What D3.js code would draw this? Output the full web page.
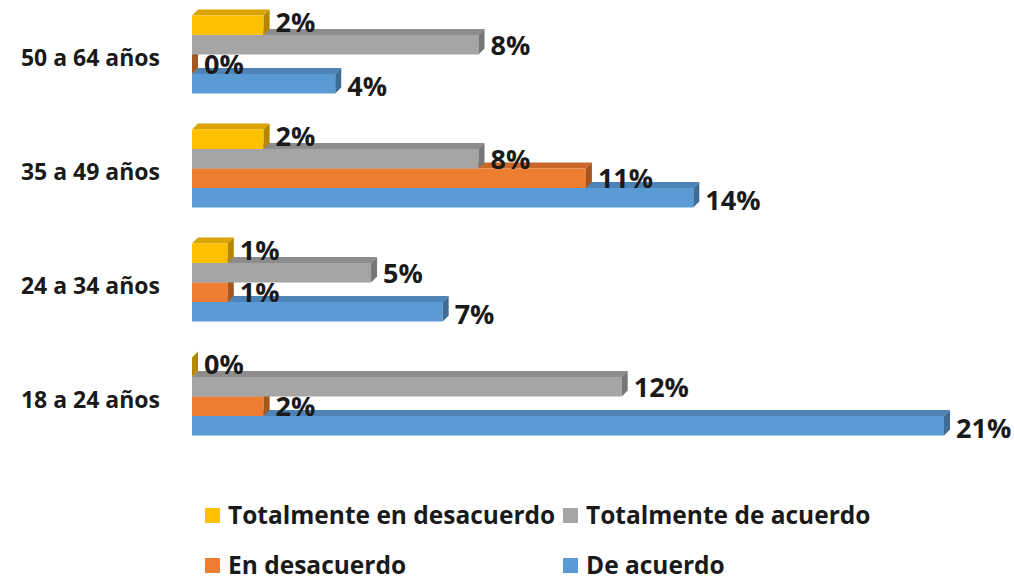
<!DOCTYPE html>
<html>
<head>
<meta charset="utf-8">
<script src="https://cdn.jsdelivr.net/npm/d3@7"></script>
<style>
body{margin:0;background:#fff;}
text{font-family:"Open Sans",Lato,sans-serif;font-weight:bold;fill:#1a1a1a;}
</style>
</head>
<body>
<svg id="chart" width="1014" height="580"></svg>
<script>
// datos
var categorias=["50 a 64 años","35 a 49 años","24 a 34 años","18 a 24 años"];
var series=["Totalmente en desacuerdo","Totalmente de acuerdo","En desacuerdo","De acuerdo"];
var totDesacuerdo=[2,2,1,0];
var totAcuerdo=[8,8,5,12];
var enDesacuerdo=[0,11,1,2];
var deAcuerdo=[4,14,7,21];
var valores=[totDesacuerdo,totAcuerdo,enDesacuerdo,deAcuerdo];

var colores=["#FFC000","#A5A5A5","#ED7D31","#5B9BD5"];
var topes=["#D9A300","#8C8C8C","#C9682A","#4D84B5"];
var lados=["#B38800","#767676","#A3571F","#3F6C96"];

var svg=d3.select("#chart");
var d=6; //profundidad 3d

var scale_x=d3.scaleLinear().domain([0,21]).range([192,944]);
var scale_y=d3.scaleBand().domain(categorias).range([15.5,435.5]).paddingInner(0.3158).paddingOuter(0);
var sub_y=d3.scaleBand().domain(series).range([0,scale_y.bandwidth()]);

var board=svg.append("g");

// se dibuja de abajo hacia arriba para que las caras superiores queden tapadas
for(var s=series.length-1;s>=0;s--)
{
    for(var c=0;c<categorias.length;c++)
    {
        var v=valores[s][c];
        var x0=scale_x(0),x1=scale_x(v);
        var y0=scale_y(categorias[c])+sub_y(series[s]);
        var y1=y0+sub_y.bandwidth();
        board.append("polygon")
            .attr("points",[[x0,y0],[x0+d,y0-d],[x1+d,y0-d],[x1,y0]].join(" "))
            .attr("fill",topes[s]);
        board.append("rect")
            .attr("x",x0).attr("y",y0)
            .attr("width",x1-x0).attr("height",y1-y0)
            .attr("fill",colores[s]);
        board.append("polygon")
            .attr("points",[[x1,y0],[x1+d,y0-d],[x1+d,y1-d],[x1,y1]].join(" "))
            .attr("fill",lados[s]);
    }
}

// etiquetas de valores
var ajuste=[-3,0,0,2];
for(var s=0;s<series.length;s++)
{
    for(var c=0;c<categorias.length;c++)
    {
        var v=valores[s][c];
        var yc=scale_y(categorias[c])+sub_y(series[s])+sub_y.bandwidth()/2;
        board.append("text")
            .attr("x",scale_x(v)+d+6)
            .attr("y",yc+ajuste[s]+3)
            .attr("dominant-baseline","middle")
            .style("font-size","27px")
            .text(v+"%");
    }
}

// categorias
svg.selectAll(".cat").data(categorias).enter().append("text")
    .attr("class","cat")
    .attr("x",160)
    .attr("y",function(k){return scale_y(k)+scale_y.bandwidth()/2+5;})
    .attr("text-anchor","end")
    .attr("dominant-baseline","middle")
    .style("font-size","23px")
    .text(function(k){return k;});

// leyenda
var leyX=[205,563,205,563];
var leyY=[515,515,565,565];
var leyenda=svg.selectAll(".ley").data(series).enter().append("g")
    .attr("class","ley")
    .attr("transform",function(k,i){return "translate("+leyX[i]+","+leyY[i]+")";});
leyenda.append("rect")
    .attr("x",0).attr("y",-7).attr("width",15).attr("height",15)
    .attr("fill",function(k,i){return colores[i];});
leyenda.append("text")
    .attr("x",23).attr("y",2)
    .attr("dominant-baseline","middle")
    .style("font-size","24.5px")
    .text(function(k){return k;});
</script>
</body>
</html>
